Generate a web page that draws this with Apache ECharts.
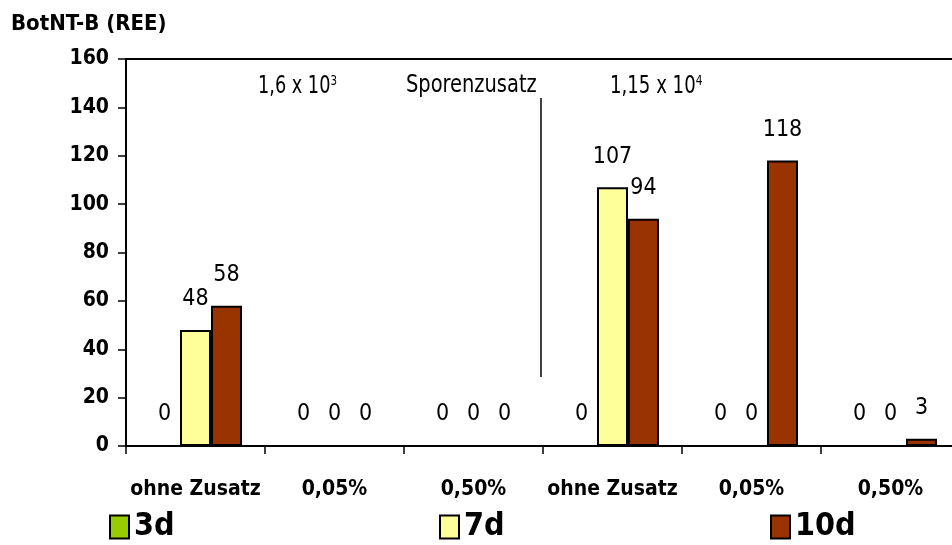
<!DOCTYPE html>
<html><head><meta charset="utf-8">
<script src="https://cdn.jsdelivr.net/npm/echarts@6/dist/echarts.min.js"></script>
<style>html,body{margin:0;padding:0;background:#fff;overflow:hidden;width:952px;height:545px}#c{width:960px;height:545px}</style>
</head><body><div id="c"></div>
<script>
const categories = ['ohne Zusatz','0,05%','0,50%','ohne Zusatz','0,05%','0,50%'];
const seriesNames = ['3d','7d','10d'];
const values3d = [0,0,0,0,0,0];
const values7d = [48,0,0,107,0,0];
const values10d = [58,0,0,94,118,3];
const yTicks = [0,20,40,60,80,100,120,140,160];

const NF = "'Liberation Sans Narrow','Arial Narrow','DejaVu Sans Condensed',sans-serif";
const colors = ['#99CC00','#FFFF99','#993300'];
const chart = echarts.init(document.getElementById('c'));
const lbl = {show:true, position:'top', distance:19, color:'#000', fontFamily:NF, fontSize:23};
function mkSeries(name, data, i){
  return {name, type:'bar', data, barWidth:31, barGap:'0%',
    itemStyle:{color:colors[i], borderColor:'#000', borderWidth:2},
    label:lbl, silent:true};
}
function mkLegend(name, left){
  return {data:[name], left, top:511, icon:'rect', itemWidth:19, itemHeight:23, itemGap:6,
    textStyle:{fontFamily:NF, fontWeight:'bold', fontSize:32, lineHeight:30, color:'#000'},
    selectedMode:false, padding:0,
    itemStyle:{borderColor:'#000', borderWidth:2}};
}
chart.setOption({
  animation:false,
  title:{text:'BotNT-B (REE)', left:6, top:8, textStyle:{fontFamily:NF, fontWeight:'bold', fontSize:22, color:'#000'}},
  grid:{left:126, top:59, right:0, bottom:99, show:true, borderColor:'#000', borderWidth:2, backgroundColor:'transparent'},
  legend:[mkLegend('3d',109), mkLegend('7d',439), mkLegend('10d',770)],
  xAxis:{type:'category', data:categories,
    axisLine:{lineStyle:{color:'#000', width:2}},
    axisTick:{show:true, length:8, lineStyle:{color:'#000', width:1.5}},
    axisLabel:{margin:33, color:'#000', fontFamily:NF, fontWeight:'bold', fontSize:21, interval:0}},
  yAxis:{type:'value', min:yTicks[0], max:yTicks[yTicks.length-1], interval:20,
    axisLine:{show:true, lineStyle:{color:'#000', width:2}},
    axisTick:{show:true, length:8, lineStyle:{color:'#000', width:1.5}},
    splitLine:{show:false},
    axisLabel:{margin:17, color:'#000', fontFamily:NF, fontWeight:'bold', fontSize:21}},
  series:[mkSeries('3d',values3d,0), mkSeries('7d',values7d,1), mkSeries('10d',values10d,2)],
  graphic:[
    {type:'text', x:258, y:74, scaleX:0.82, style:{text:'1,6 x 10{s|3}', font:"24px "+NF, fill:'#000',
      rich:{s:{fontSize:14, fontFamily:NF, verticalAlign:'top', padding:[0,0,12,0]}}}},
    {type:'text', x:406, y:74, scaleX:0.9, style:{text:'Sporenzusatz', font:"24px "+NF, fill:'#000'}},
    {type:'text', x:610, y:74, scaleX:0.84, style:{text:'1,15 x 10{s|4}', font:"24px "+NF, fill:'#000',
      rich:{s:{fontSize:14, fontFamily:NF, verticalAlign:'top', padding:[0,0,12,0]}}}},
    {type:'line', shape:{x1:541, y1:98, x2:541, y2:377}, style:{stroke:'#000', lineWidth:1.5}}
  ]
});
</script></body></html>
